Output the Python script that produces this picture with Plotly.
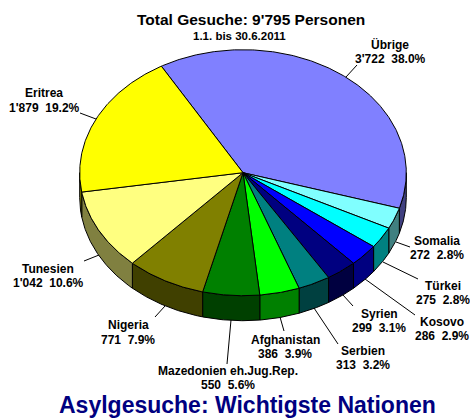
import numpy as np
import plotly.graph_objects as go

# Data, clockwise from the start of the first slice
categories = ["Übrige", "Somalia", "Türkei", "Kosovo", "Syrien", "Serbien",
              "Afghanistan", "Mazedonien eh.Jug.Rep.", "Nigeria", "Tunesien", "Eritrea"]
values = [3722, 272, 275, 286, 299, 313, 386, 550, 771, 1042, 1879]
percent_labels = ["38.0%", "2.8%", "2.8%", "2.9%", "3.1%", "3.2%", "3.9%", "5.6%", "7.9%", "10.6%", "19.2%"]
value_labels = ["3'722", "272", "275", "286", "299", "313", "386", "550", "771", "1'042", "1'879"]

# Styles
top_colors = ["#8080FF", "#80FFFF", "#00FFFF", "#0000FF", "#000080", "#008080",
              "#00FF00", "#008000", "#808000", "#FFFF80", "#FFFF00"]
side_colors = ["#404080", "#408080", "#008080", "#000080", "#000040", "#004040",
               "#008000", "#004000", "#404000", "#808040", "#808000"]

# Layout geometry (pixels)
CX, CY, RX, RY, DEPTH = 243, 172.7, 163.3, 123, 25
START_ANGLE = 120.0
label_centers = [(390, 44, 59), (437, 241, 255), (443, 286, 300), (442, 322, 336), (379, 314, 328),
                 (363, 351, 365), (285, 340, 354), (228, 371, 384.5), (128, 325, 340), (48, 269, 283), (44, 93, 108)]
leaders = [((346, 77), (357, 65)), ((396, 242), (410, 247)), ((383, 262), (418, 279)),
           ((365, 279), (415, 315)), ((343, 295), (353, 306)), ((314, 308), (338, 344)),
           ((280, 317), (284, 331)), ((231, 320), (227, 364)), ((165, 306), (155, 317)),
           ((99, 255), (84, 261)), ((96, 119), (80, 113))]

FONT = "Liberation Sans, Arial, sans-serif"


def arc(a0, a1, dy=0.0):
    n = max(2, int(abs(a1 - a0) * 2) + 2)
    t = np.radians(np.linspace(a0, a1, n))
    return CX + RX * np.cos(t), CY - RY * np.sin(t) + dy


total = sum(values)
spans = [v / total * 360 for v in values]
starts = START_ANGLE - np.concatenate([[0], np.cumsum(spans)[:-1]])
ends = starts - np.array(spans)

fig = go.Figure()


def add_poly(x, y, color, name):
    fig.add_trace(go.Scatter(x=x, y=y, mode="lines", fill="toself", fillcolor=color,
                             line=dict(color="black", width=1), name=name,
                             hoverinfo="name", showlegend=False))


# Side walls: only the part of each slice on the front half of the ellipse
for a0, a1, c, name in zip(starts, ends, side_colors, categories):
    for shift in (0, -360):
        s = min(a0 + shift, 0.0)
        e = max(a1 + shift, -180.0)
        if s > e:
            xt, yt = arc(s, e)
            xb, yb = arc(e, s, DEPTH)
            add_poly(np.r_[xt, xb, xt[0]], np.r_[yt, yb, yt[0]], c, name)

# Top faces
for a0, a1, c, name in zip(starts, ends, top_colors, categories):
    x, y = arc(a0, a1)
    add_poly(np.r_[CX, x, CX], np.r_[CY, y, CY], c, name)

annotations = []


def add_text(x, y, text, size, color="black"):
    annotations.append(dict(x=x, y=y, xref="x", yref="y", text=text, showarrow=False,
                            xanchor="center", yanchor="middle", align="center",
                            font=dict(family=FONT, size=size, color=color, weight="bold")))


for name, val, pct, (x, y1, y2) in zip(categories, value_labels, percent_labels, label_centers):
    add_text(x, y1, name, 12)
    add_text(x, y2, f"{val}\u00a0\u00a0{pct}", 12)

add_text(250.5, 19, "Total Gesuche: 9'795 Personen", 15.5)
add_text(239.5, 36, "1.1. bis 30.6.2011", 11.5)
add_text(247.5, 404.5, "Asylgesuche: Wichtigste Nationen", 23, "#000080")

shapes = [dict(type="line", xref="x", yref="y", x0=p[0], y0=p[1], x1=q[0], y1=q[1],
               line=dict(color="black", width=1)) for p, q in leaders]

fig.update_layout(
    width=470, height=418, margin=dict(l=0, r=0, t=0, b=0),
    paper_bgcolor="white", plot_bgcolor="white", showlegend=False,
    xaxis=dict(range=[0, 470], visible=False, fixedrange=True),
    yaxis=dict(range=[418, 0], visible=False, fixedrange=True),
    annotations=annotations, shapes=shapes,
)
fig.write_html("out.html", config={"displayModeBar": False},
               post_script="document.body.style.margin='0';document.body.style.overflow='hidden';")
